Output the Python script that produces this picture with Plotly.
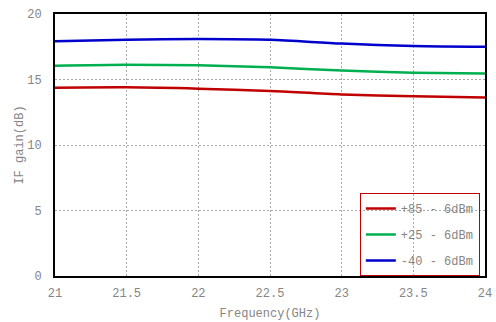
import plotly.graph_objects as go

freq = [21, 21.5, 22, 22.5, 23, 23.5, 24]
gain_p85 = [14.37, 14.40, 14.30, 14.12, 13.86, 13.73, 13.62]
gain_p25 = [16.05, 16.12, 16.08, 15.93, 15.68, 15.52, 15.45]
gain_m40 = [17.92, 18.04, 18.09, 18.03, 17.74, 17.56, 17.50]
names = ["+85 - 6dBm", "+25 - 6dBm", "-40 - 6dBm"]
colors = ["#c00000", "#00b050", "#0000cc"]

FONT = "Liberation Mono"
GREY = "#858585"

fig = go.Figure()
for i, (ys, nm, c) in enumerate(zip([gain_p85, gain_p25, gain_m40], names, colors)):
    fig.add_trace(go.Scatter(x=freq, y=ys, mode="lines", name=nm,
                             line=dict(color=c, width=2.5, shape="spline", smoothing=0.8),
                             legendgroup=f"g{i}"))

fig.update_layout(
    width=496, height=322,
    margin=dict(l=55, r=11, t=14, b=46, autoexpand=False),
    paper_bgcolor="white", plot_bgcolor="white",
    font=dict(family=FONT, size=12, color=GREY),
    showlegend=True,
    legend=dict(x=0.988, y=0, xanchor="right", yanchor="bottom",
                bgcolor="rgba(0,0,0,0)", bordercolor="#c00000", borderwidth=1,
                traceorder="grouped", tracegroupgap=7, itemwidth=30,
                font=dict(family=FONT, size=12, color=GREY)),
)
fig.update_xaxes(range=[21, 24], tickvals=[21, 21.5, 22, 22.5, 23, 23.5, 24],
                 ticktext=["21", "21.5", "22", "22.5", "23", "23.5", "24"],
                 showgrid=True, gridcolor="#a8a8a8", griddash="2px,2px", gridwidth=1,
                 showline=True, linecolor="black", linewidth=2, mirror=True,
                 zeroline=False, ticks="", ticklabelstandoff=5, automargin=False,
                 title=dict(text="Frequency(GHz)", standoff=8, font=dict(size=12, color=GREY)))
fig.update_yaxes(range=[0, 20], tickvals=[0, 5, 10, 15, 20],
                 showgrid=True, gridcolor="#a8a8a8", griddash="2px,2px", gridwidth=1,
                 showline=True, linecolor="black", linewidth=2, mirror=True,
                 zeroline=False, ticks="", ticklabelstandoff=9, automargin=False,
                 title=dict(text="IF gain(dB)", standoff=0, font=dict(size=12, color=GREY)))

fig.write_html("out.html")
